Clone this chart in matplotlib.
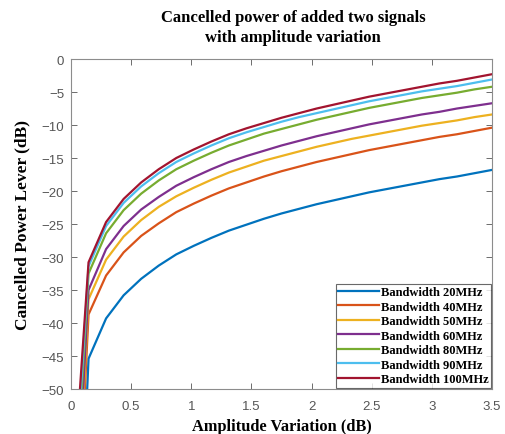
import matplotlib
matplotlib.use("Agg")
import matplotlib.pyplot as plt

# amplitude variation samples (dB), 25 points from 0 to 3.5
amp_db = [0.0, 0.1458, 0.2917, 0.4375, 0.5833, 0.7292, 0.875, 1.0208, 1.1667,
          1.3125, 1.4583, 1.6042, 1.75, 1.8958, 2.0417, 2.1875, 2.3333, 2.4792,
          2.625, 2.7708, 2.9167, 3.0625, 3.2083, 3.3542, 3.5]

bw_20 = [-105, -45.4, -39.3, -35.8, -33.3, -31.3, -29.6, -28.3, -27.1, -26.0, -25.1,
         -24.2, -23.4, -22.7, -22.0, -21.4, -20.8, -20.2, -19.7, -19.2, -18.7, -18.2,
         -17.8, -17.3, -16.8]
bw_40 = [-92, -38.7, -32.8, -29.3, -26.8, -24.9, -23.2, -21.9, -20.7, -19.6, -18.7,
         -17.8, -17.0, -16.3, -15.6, -15.0, -14.4, -13.8, -13.3, -12.8, -12.3, -11.8,
         -11.4, -10.9, -10.4]
bw_50 = [-88, -36.4, -30.4, -26.9, -24.4, -22.4, -20.8, -19.5, -18.3, -17.2, -16.3,
         -15.4, -14.7, -14.0, -13.3, -12.7, -12.1, -11.6, -11.1, -10.6, -10.1, -9.7,
         -9.3, -8.8, -8.4]
bw_60 = [-84, -35.0, -28.8, -25.3, -22.8, -20.9, -19.2, -17.9, -16.7, -15.6, -14.7,
         -13.9, -13.1, -12.4, -11.7, -11.1, -10.5, -9.9, -9.4, -8.9, -8.4, -8.0,
         -7.5, -7.1, -6.7]
bw_80 = [-78, -32.5, -26.4, -22.9, -20.4, -18.4, -16.7, -15.4, -14.2, -13.1, -12.2,
         -11.3, -10.6, -9.9, -9.2, -8.6, -8.0, -7.4, -6.9, -6.4, -5.9, -5.5,
         -5.1, -4.6, -4.2]
bw_90 = [-74, -31.4, -25.3, -21.8, -19.3, -17.3, -15.6, -14.3, -13.1, -12.0, -11.1,
         -10.3, -9.5, -8.8, -8.2, -7.6, -7.0, -6.4, -5.9, -5.4, -4.9, -4.5,
         -4.1, -3.6, -3.1]
bw_100 = [-70, -30.8, -24.7, -21.2, -18.7, -16.7, -15.0, -13.7, -12.5, -11.4, -10.5,
          -9.7, -8.9, -8.2, -7.5, -6.9, -6.3, -5.7, -5.2, -4.7, -4.2, -3.7,
          -3.3, -2.8, -2.3]

labels = ["Bandwidth 20MHz", "Bandwidth 40MHz", "Bandwidth 50MHz", "Bandwidth 60MHz",
          "Bandwidth 80MHz", "Bandwidth 90MHz", "Bandwidth 100MHz"]
series = [bw_20, bw_40, bw_50, bw_60, bw_80, bw_90, bw_100]
colors = ["#0072BD", "#D95319", "#EDB120", "#7E2F8E", "#77AC30", "#4DBEEE", "#A2142F"]

x_ticks = [0, 0.5, 1, 1.5, 2, 2.5, 3, 3.5]
x_tick_labels = ["0", "0.5", "1", "1.5", "2", "2.5", "3", "3.5"]
y_ticks = [0, -5, -10, -15, -20, -25, -30, -35, -40, -45, -50]

serif = ["Liberation Serif", "DejaVu Serif"]
sans = ["Liberation Sans", "DejaVu Sans"]
tick_gray = "#555555"

fig = plt.figure(figsize=(5.05, 4.35), dpi=100)
ax = fig.add_axes([0.1406, 0.1034, 0.8337, 0.7586])

for values, label, color in zip(series, labels, colors):
    ax.plot(amp_db, values, color=color, linewidth=1.6, label=label)

ax.set_xlim(0, 3.5)
ax.set_ylim(-50, 0)
ax.set_xticks(x_ticks)
ax.set_xticklabels(x_tick_labels)
ax.set_yticks(y_ticks)
ax.tick_params(direction="in", top=True, right=True, length=4, width=0.6,
               colors=tick_gray, labelsize=9.5)
ax.tick_params(axis="x", pad=8)
ax.tick_params(axis="y", pad=5)
for lbl in ax.get_xticklabels() + ax.get_yticklabels():
    lbl.set_family(sans)
for spine in ax.spines.values():
    spine.set_color("#8c8c8c")
    spine.set_linewidth(0.8)

ax.set_title("Cancelled power of added two signals\nwith amplitude variation",
             family=serif, fontweight="bold", fontsize=12, pad=13, linespacing=1.3,
             x=0.527)
ax.set_xlabel("Amplitude Variation (dB)", family=serif, fontweight="bold",
              fontsize=11.8, labelpad=4, color="black")
ax.set_ylabel("Cancelled Power Lever (dB)", family=serif, fontweight="bold",
              fontsize=12.5, labelpad=8, color="black")

leg = ax.legend(loc="lower right", prop={"family": serif, "weight": "bold", "size": 9},
                handlelength=3.3, handletextpad=0.1, borderpad=0.2, labelspacing=0.2,
                borderaxespad=0.1, frameon=True, fancybox=False)
leg.get_frame().set_edgecolor("#444444")
leg.get_frame().set_linewidth(0.8)

fig.savefig("out.png", dpi=100)
